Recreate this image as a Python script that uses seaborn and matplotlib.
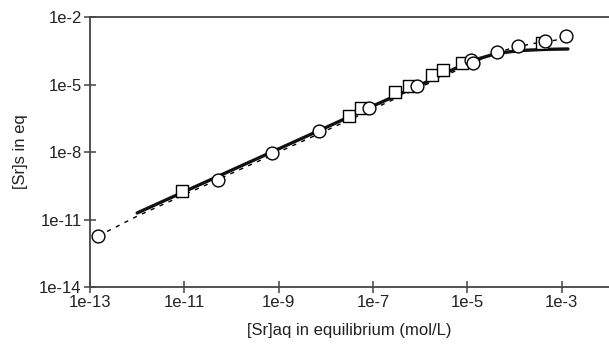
import matplotlib

matplotlib.use("Agg")
import matplotlib.pyplot as plt
import numpy as np
import pandas as pd
import seaborn as sns
from matplotlib.ticker import FixedLocator, FuncFormatter, NullLocator

# log10 values
circle_x = [-12.82, -10.29, -9.14, -8.15, -7.09, -6.07, -4.93, -4.89, -4.38, -3.93, -3.36, -2.92]
circle_y = [-11.73, -9.24, -8.04, -7.05, -6.04, -5.07, -3.91, -4.06, -3.56, -3.29, -3.07, -2.84]

square_x = [-11.05, -7.51, -7.26, -6.54, -6.24, -5.75, -5.52, -5.12, -3.42]
square_y = [-9.73, -6.40, -6.04, -5.33, -5.07, -4.58, -4.36, -4.04, -3.16]

fit_x = [-12.0, -11.0, -10.0, -9.0, -8.0, -7.0, -6.0, -5.5, -5.0, -4.74, -4.38, -3.89, -3.36, -2.87]
fit_y = [-10.71, -9.76, -8.81, -7.86, -6.91, -5.95, -5.02, -4.52, -4.04, -3.84, -3.62, -3.49, -3.44, -3.42]

dot_x = [-12.82, -12.0, -10.0, -8.0, -6.0, -5.0, -4.5, -4.0, -3.5, -3.13, -2.92]
dot_y = [-11.73, -10.85, -8.95, -7.05, -5.12, -4.15, -3.68, -3.34, -3.14, -3.03, -2.84]

x_ticks = [-13, -11, -9, -7, -5, -3]
y_ticks = [-14, -11, -8, -5, -2]


def to_df(xs, ys):
    return pd.DataFrame({"x": np.power(10.0, xs), "y": np.power(10.0, ys)})


sns.set_style("ticks")
plt.rcParams["font.family"] = ["Liberation Sans", "DejaVu Sans"]

fig = plt.figure(figsize=(6.09, 3.44), dpi=100)
ax = fig.add_axes([90 / 609, 57 / 344, 519 / 609, 270 / 344])
ax.set_xscale("log")
ax.set_yscale("log")

sns.lineplot(data=to_df(dot_x, dot_y), x="x", y="y", ax=ax, color="black",
             linewidth=1.0, linestyle=(0, (3, 4)), sort=False)
sns.lineplot(data=to_df(fit_x, fit_y), x="x", y="y", ax=ax, color="#111111",
             linewidth=2.4, sort=False)
sns.scatterplot(data=to_df(square_x, square_y), x="x", y="y", ax=ax, marker="s",
                s=85, facecolor="white", edgecolor="black", linewidth=1.0, zorder=3)
sns.scatterplot(data=to_df(circle_x, circle_y), x="x", y="y", ax=ax, marker="o",
                s=85, facecolor="white", edgecolor="black", linewidth=1.0, zorder=4)

ax.set_xlim(1e-13, 1e-2)
ax.set_ylim(1e-14, 1e-2)
ax.xaxis.set_major_locator(FixedLocator([10.0 ** v for v in x_ticks]))
ax.yaxis.set_major_locator(FixedLocator([10.0 ** v for v in y_ticks]))
ax.xaxis.set_minor_locator(NullLocator())
ax.yaxis.set_minor_locator(NullLocator())
fmt = FuncFormatter(lambda v, _: f"1e{int(round(np.log10(v)))}")
ax.xaxis.set_major_formatter(fmt)
ax.yaxis.set_major_formatter(fmt)

for side in ["left", "bottom", "top"]:
    ax.spines[side].set_color("#444444")
    ax.spines[side].set_linewidth(1.3)
ax.spines["right"].set_visible(False)
ax.tick_params(direction="inout", length=8, width=1.1, color="#444444",
               labelsize=12, labelcolor="#222222", pad=2)

ax.set_xlabel("[Sr]aq in equilibrium (mol/L)", fontsize=12, color="#222222", labelpad=9)
ax.set_ylabel("[Sr]s in eq", fontsize=12, color="#222222", labelpad=8)

fig.savefig("out.png", dpi=100)
plt.close(fig)
